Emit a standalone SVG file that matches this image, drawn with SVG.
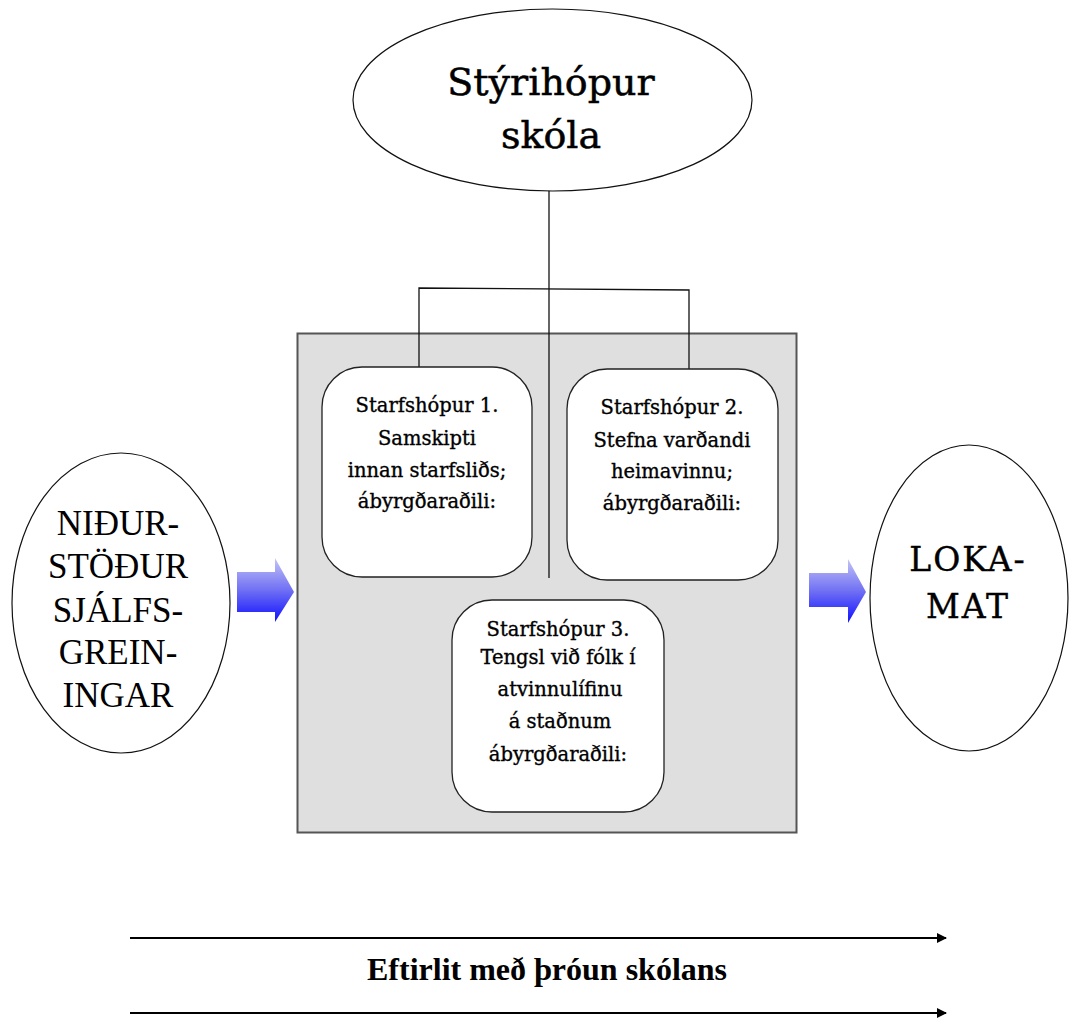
<svg xmlns="http://www.w3.org/2000/svg" width="1072" height="1018" viewBox="0 0 1072 1018">
<style>
.ell{fill:#fff;stroke:#111;stroke-width:1.2}
.card{fill:#fff;stroke:#222;stroke-width:1.3}
.line{fill:none;stroke:#111;stroke-width:1.3}
.big{font-family:"Liberation Serif",serif;font-size:35px;fill:#000;text-anchor:middle}
.cardt{font-family:"DejaVu Serif",serif;font-size:19.5px;fill:#000;stroke:#000;stroke-width:0.35;text-anchor:middle}
.top{font-family:"DejaVu Serif",serif;font-size:38px;fill:#000;stroke:#000;stroke-width:0.5;text-anchor:middle}
.loka{font-family:"DejaVu Serif",serif;font-size:33px;fill:#000;stroke:#000;stroke-width:0.4;text-anchor:middle;letter-spacing:2px}
.bot{font-family:"Liberation Serif",serif;font-size:32px;font-weight:bold;fill:#000;text-anchor:middle}
.arr{stroke:#000;stroke-width:2.2;fill:none}
.blk{fill:url(#bg)}
</style>
<defs>
<linearGradient id="bg" x1="0" y1="0" x2="0" y2="1">
<stop offset="0" stop-color="#c4c4f6"/>
<stop offset="0.5" stop-color="#7070f4"/>
<stop offset="1" stop-color="#1010ff"/>
</linearGradient>
<marker id="ah" markerWidth="10" markerHeight="10" refX="9" refY="5" orient="auto" markerUnits="userSpaceOnUse" viewBox="0 0 10 10">
<path d="M0,0 L10,5 L0,10 Z" fill="#000"/>
</marker>
</defs>
<rect width="1072" height="1018" fill="#fff"/>

<g id="panel">
<rect x="297.5" y="333.5" width="499" height="499" fill="#dfdfdf" stroke="#555" stroke-width="2"/>
</g>

<g id="connectors">
<line class="line" x1="549" y1="185" x2="549" y2="578"/>
<polyline class="line" points="419,367 419,288 689,290 689,369"/>
<polygon id="arrow-in" class="blk" points="237,572 275,572 275,558 294,592 275,622 275,612 237,612"/>
<polygon id="arrow-out" class="blk" points="809,573 848,573 848,559 866,592 848,623 848,607 809,607"/>
<line class="arr" x1="130" y1="938" x2="946" y2="938" marker-end="url(#ah)"/>
<line class="arr" x1="130" y1="1013" x2="946" y2="1013" marker-end="url(#ah)"/>
<text class="bot" x="547" y="980">Eftirlit með þróun skólans</text>
</g>

<g id="styrihopur">
<ellipse class="ell" cx="552.5" cy="100" rx="199.5" ry="91"/>
<text class="top" x="551" y="95">Stýrihópur</text>
<text class="top" x="551" y="148">skóla</text>
</g>

<g id="nidurstodur">
<ellipse class="ell" cx="121" cy="603" rx="109" ry="150"/>
<text class="big" x="118" y="535">NIÐUR-</text>
<text class="big" x="118" y="578">STÖÐUR</text>
<text class="big" x="118" y="622">SJÁLFS-</text>
<text class="big" x="118" y="664">GREIN-</text>
<text class="big" x="118" y="707">INGAR</text>
</g>

<g id="lokamat">
<ellipse class="ell" cx="969" cy="598" rx="99" ry="153"/>
<text class="loka" x="968" y="571">LOKA-</text>
<text class="loka" x="968" y="618">MAT</text>
</g>

<g id="starfshopur1">
<rect class="card" x="322" y="367" width="210" height="210" rx="40"/>
<text class="cardt" x="427" y="412">Starfshópur 1.</text>
<text class="cardt" x="427" y="445">Samskipti</text>
<text class="cardt" x="427" y="477">innan starfsliðs;</text>
<text class="cardt" x="427" y="508">ábyrgðaraðili:</text>
</g>

<g id="starfshopur2">
<rect class="card" x="567" y="369" width="211" height="211" rx="40"/>
<text class="cardt" x="672" y="414">Starfshópur 2.</text>
<text class="cardt" x="672" y="447">Stefna varðandi</text>
<text class="cardt" x="672" y="478">heimavinnu;</text>
<text class="cardt" x="672" y="510">ábyrgðaraðili:</text>
</g>

<g id="starfshopur3">
<rect class="card" x="452" y="600" width="212" height="212" rx="40"/>
<text class="cardt" x="558" y="636">Starfshópur 3.</text>
<text class="cardt" x="558" y="664">Tengsl við fólk í</text>
<text class="cardt" x="560" y="696">atvinnulífinu</text>
<text class="cardt" x="560" y="728">á staðnum</text>
<text class="cardt" x="558" y="761">ábyrgðaraðili:</text>
</g>
</svg>
